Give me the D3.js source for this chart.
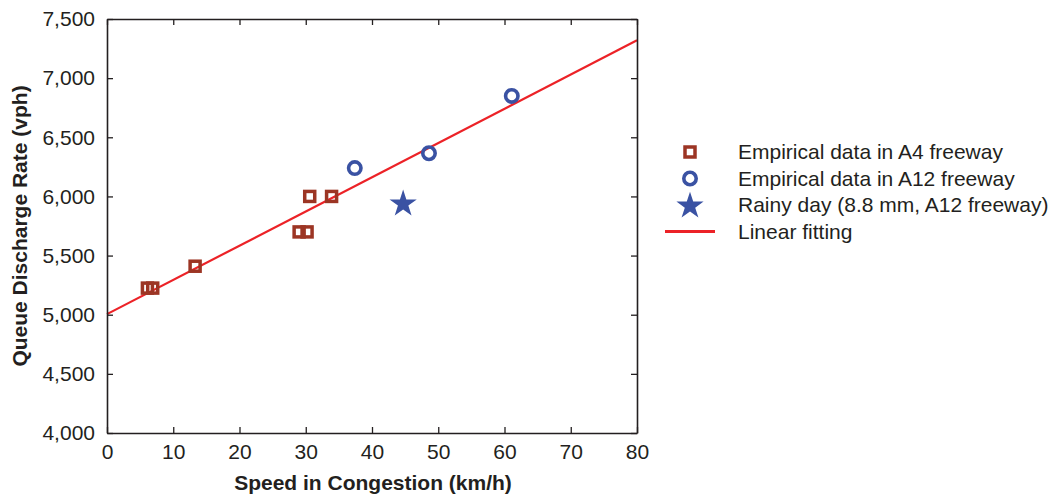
<!DOCTYPE html>
<html>
<head>
<meta charset="utf-8">
<script src="https://cdn.jsdelivr.net/npm/d3@7"></script>
<style>
  body { margin: 0; background: #fff; }
  svg text { font-family: "Liberation Sans", Arial, Helvetica, sans-serif; fill: #231f20; }
</style>
</head>
<body>
<div id="my_dataviz"></div>
<script>
// data
var a4Speed = [6.1, 6.9, 13.3, 29.0, 30.2, 30.6, 33.9];
var a4Rate = [5225, 5225, 5410, 5700, 5700, 6000, 6000];
var a12Speed = [37.4, 48.6, 61.1];
var a12Rate = [6240, 6365, 6850];
var rainySpeed = [44.7];
var rainyRate = [5945];
var fitSpeed = [0, 80];
var fitRate = [5005, 7320];
var xTicks = [0, 10, 20, 30, 40, 50, 60, 70, 80];
var yTicks = [4000, 4500, 5000, 5500, 6000, 6500, 7000, 7500];
var legendLabels = ["Empirical data in A4 freeway", "Empirical data in A12 freeway",
  "Rainy day (8.8 mm, A12 freeway)", "Linear fitting"];

var cfg = {
  width: 1056,
  height: 495,
  left: 107, right: 637, top: 19, bottom: 433
};
var brown = "#9c3524", blue = "#3a52a3", red = "#ec2227", axisCol = "#231f20";

var svg = d3.select("#my_dataviz").append("svg")
  .attr("width", cfg.width)
  .attr("height", cfg.height);

var x = d3.scaleLinear().domain([0, 80]).range([cfg.left, cfg.right]);
var y = d3.scaleLinear().domain([4000, 7500]).range([cfg.bottom, cfg.top]);

// fit line first, markers on top
svg.append("path")
  .datum(d3.zip(fitSpeed, fitRate))
  .attr("d", d3.line().x(function(d){ return x(d[0]); }).y(function(d){ return y(d[1]); }))
  .style("fill", "none")
  .style("stroke", red)
  .style("stroke-width", 2.2);

// axes (ticks pointing inside, on all four sides)
var fmt = d3.format(",");
svg.append("g")
  .attr("transform", "translate(0," + cfg.bottom + ")")
  .call(d3.axisBottom(x).tickValues(xTicks).tickSizeInner(-6).tickSizeOuter(0).tickPadding(11));
svg.append("g")
  .attr("transform", "translate(0," + cfg.top + ")")
  .call(d3.axisTop(x).tickValues(xTicks).tickSizeInner(-6).tickSizeOuter(0).tickFormat(""));
svg.append("g")
  .attr("transform", "translate(" + cfg.left + ",0)")
  .call(d3.axisLeft(y).tickValues(yTicks).tickFormat(fmt).tickSizeInner(-6).tickSizeOuter(0).tickPadding(12));
svg.append("g")
  .attr("transform", "translate(" + cfg.right + ",0)")
  .call(d3.axisRight(y).tickValues(yTicks).tickSizeInner(-6).tickSizeOuter(0).tickFormat(""));

svg.selectAll(".domain").style("stroke", axisCol).style("stroke-width", 1.6);
svg.selectAll(".tick line").style("stroke", axisCol).style("stroke-width", 1.3);
svg.selectAll(".tick text").style("font-size", "21px").style("fill", axisCol);

// axis titles
svg.append("text")
  .attr("x", 373)
  .attr("y", 490)
  .attr("text-anchor", "middle")
  .style("font-size", "21px")
  .style("font-weight", "bold")
  .text("Speed in Congestion (km/h)");
svg.append("text")
  .attr("transform", "translate(27,226) rotate(-90)")
  .attr("text-anchor", "middle")
  .style("font-size", "21px")
  .style("font-weight", "bold")
  .text("Queue Discharge Rate (vph)");

// A4 squares
svg.append("g").selectAll("rect")
  .data(d3.zip(a4Speed, a4Rate))
  .enter()
  .append("rect")
    .attr("x", function(d){ return x(d[0]) - 5; })
    .attr("y", function(d){ return y(d[1]) - 5; })
    .attr("width", 10)
    .attr("height", 10)
    .style("fill", "none")
    .style("stroke", brown)
    .style("stroke-width", 3.5);

// A12 circles
svg.append("g").selectAll("circle")
  .data(d3.zip(a12Speed, a12Rate))
  .enter()
  .append("circle")
    .attr("cx", function(d){ return x(d[0]); })
    .attr("cy", function(d){ return y(d[1]); })
    .attr("r", 6.2)
    .style("fill", "none")
    .style("stroke", blue)
    .style("stroke-width", 3.6);

// rainy day star
var star = d3.symbol().type(d3.symbolStar).size(230);
svg.append("g").selectAll("path")
  .data(d3.zip(rainySpeed, rainyRate))
  .enter()
  .append("path")
    .attr("d", star)
    .attr("transform", function(d){ return "translate(" + x(d[0]) + "," + (y(d[1]) + 1) + ")"; })
    .style("fill", blue);

// legend
var lgX = 690, lgY0 = 152, lgDy = 26.5, lgTextX = 738;
var lg = svg.append("g");
lg.append("rect").attr("x", lgX - 5).attr("y", lgY0 - 5).attr("width", 10).attr("height", 10)
  .style("fill", "none").style("stroke", brown).style("stroke-width", 3.5);
lg.append("circle").attr("cx", lgX).attr("cy", lgY0 + lgDy).attr("r", 6.2)
  .style("fill", "none").style("stroke", blue).style("stroke-width", 3.6);
lg.append("path").attr("d", star).attr("transform", "translate(" + lgX + "," + (lgY0 + 2 * lgDy + 1) + ")")
  .style("fill", blue);
lg.append("line").attr("x1", lgX - 25).attr("x2", lgX + 25)
  .attr("y1", lgY0 + 3 * lgDy).attr("y2", lgY0 + 3 * lgDy)
  .style("stroke", red).style("stroke-width", 3);
lg.selectAll("text")
  .data(legendLabels)
  .enter()
  .append("text")
    .attr("x", lgTextX)
    .attr("y", function(d, i){ return lgY0 + i * lgDy; })
    .attr("dy", "0.35em")
    .style("font-size", "21px")
    .text(function(d){ return d; });
</script>
</body>
</html>
